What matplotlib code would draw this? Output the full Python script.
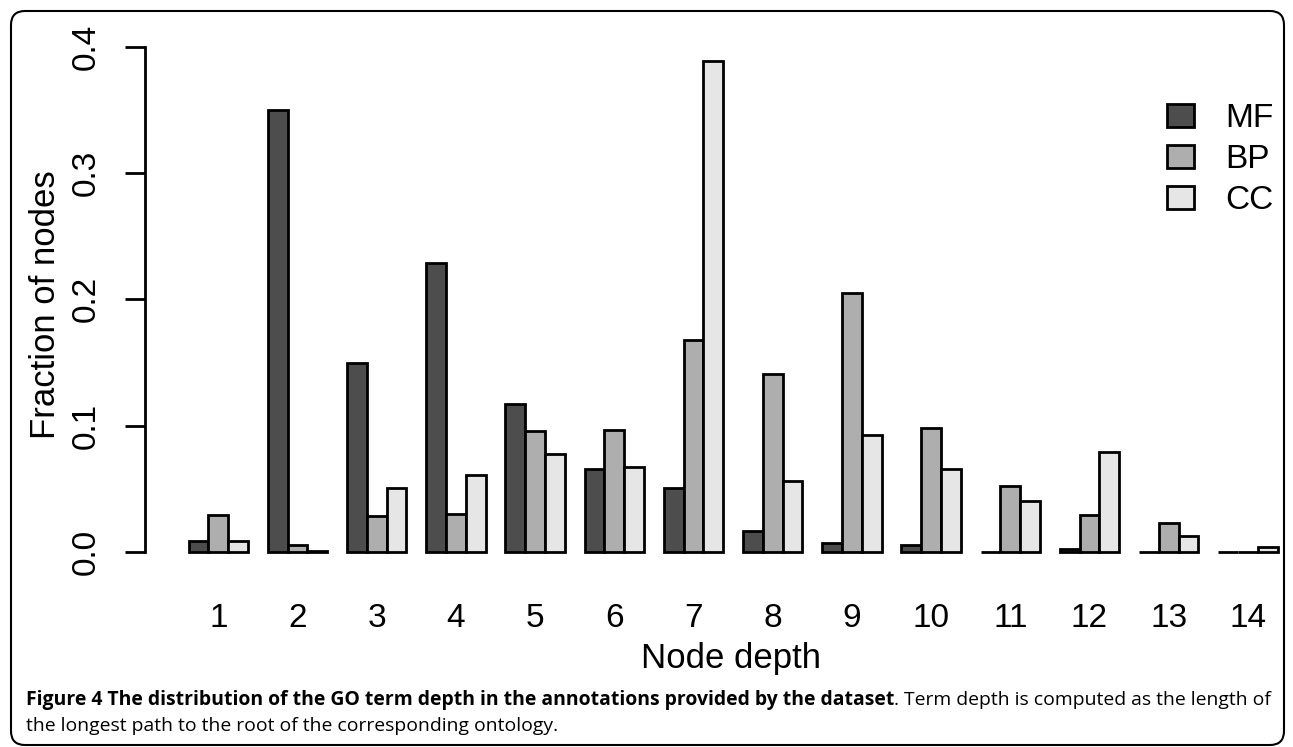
import numpy as np
import matplotlib.pyplot as plt
from matplotlib import font_manager
from matplotlib.patches import FancyBboxPatch
from matplotlib.transforms import IdentityTransform

# Fraction of GO term nodes at each depth, per ontology
depths = list(range(1, 15))
mf = [0.0085, 0.350, 0.150, 0.229, 0.117, 0.066, 0.051, 0.0168, 0.0073, 0.0054, 0.0, 0.0025, 0.0, 0.0]
bp = [0.029, 0.0054, 0.0289, 0.030, 0.096, 0.097, 0.168, 0.141, 0.205, 0.098, 0.052, 0.0297, 0.0226, 0.0]
cc = [0.0085, 0.001, 0.0508, 0.061, 0.078, 0.067, 0.389, 0.0566, 0.0925, 0.066, 0.0405, 0.0793, 0.0125, 0.0038]
series = ['MF', 'BP', 'CC']
colors = ['#4D4D4D', '#AEAEAE', '#E6E6E6']
yticks = [0.0, 0.1, 0.2, 0.3, 0.4]

caption_bold = 'Figure 4 The distribution of the GO term depth in the annotations provided by the dataset'
caption_rest = '. Term depth is computed as the length of'
caption_line2 = 'the longest path to the root of the corresponding ontology.'

W, H = 1293, 747
plt.rcParams['font.family'] = ['Liberation Sans', 'DejaVu Sans']
fig = plt.figure(figsize=(W / 100, H / 100), dpi=100)


def px_rect(left, top, right, bottom):
    return [left / W, 1 - bottom / H, (right - left) / W, (bottom - top) / H]


ax = fig.add_axes(px_rect(145, 41, 1293, 572))
unit = 19.8
ax.set_xlim(-1.2, -1.2 + 1148 / unit)
ax.set_ylim(-0.0158, 0.4046)

# bars of width 1, groups separated by one bar width (like R barplot beside=TRUE)
group_start = 1 + 4 * np.arange(len(depths))
for k, (vals, c, name) in enumerate(zip([mf, bp, cc], colors, series)):
    ax.bar(group_start + k, vals, width=1, align='edge', color=c,
           edgecolor='black', linewidth=2, label=name, clip_on=False)

ax.set_xticks(group_start + 1.5, labels=[str(d) for d in depths])
ax.tick_params(axis='x', length=0, pad=22, labelsize=24)
ax.set_yticks(yticks, labels=['%.1f' % v for v in yticks])
ax.tick_params(axis='y', length=14.4, width=2, pad=17, labelsize=24)
for lab in ax.get_yticklabels():
    lab.set_rotation(90)
    lab.set_va('center')

for s in ['top', 'right', 'bottom']:
    ax.spines[s].set_visible(False)
ax.spines['left'].set_bounds(0, 0.4)
ax.spines['left'].set_linewidth(2)

ax.set_xlabel('Node depth', fontsize=25)
ax.xaxis.set_label_coords((731 - 145) / 1148, (572 - 642) / 531)
ax.set_ylabel('Fraction of nodes', fontsize=25)
ax.yaxis.set_label_coords((62 - 145) / 1148, 0.503)

ax.legend(loc='upper left', bbox_to_anchor=(1167 / W, 1 - 103 / H),
          bbox_transform=fig.transFigure, frameon=False, fontsize=24,
          handlelength=0.8, handleheight=0.66, handletextpad=0.95,
          labelspacing=0.3, borderpad=0, borderaxespad=0)

# rounded frame around the whole figure
frame = FancyBboxPatch((11, 2), 1273, 734, boxstyle='round,pad=0,rounding_size=14',
                       transform=IdentityTransform(), fill=False,
                       edgecolor='black', linewidth=1.5)
fig.patches.append(frame)

# caption
names = {f.name for f in font_manager.fontManager.ttflist}
cap_font = 'Liberation Sans Narrow' if 'Liberation Sans Narrow' in names else 'Open Sans'
renderer = fig.canvas.get_renderer()

x0 = 26
size = 14
t1 = fig.text(x0, 747 - 705, caption_bold, fontsize=size, fontweight='bold',
              family=cap_font, transform=IdentityTransform(), va='baseline')
t2 = fig.text(0, 747 - 705, caption_rest, fontsize=size, family=cap_font,
              transform=IdentityTransform(), va='baseline')
w = t1.get_window_extent(renderer).width + t2.get_window_extent(renderer).width
size = size * (1279 - x0) / w
t1.set_fontsize(size)
t2.set_fontsize(size)
t2.set_x(t1.get_window_extent(renderer).x1)
fig.text(x0, 747 - 731, caption_line2, fontsize=size, family=cap_font,
         transform=IdentityTransform(), va='baseline')

fig.savefig('out.png', dpi=100)
